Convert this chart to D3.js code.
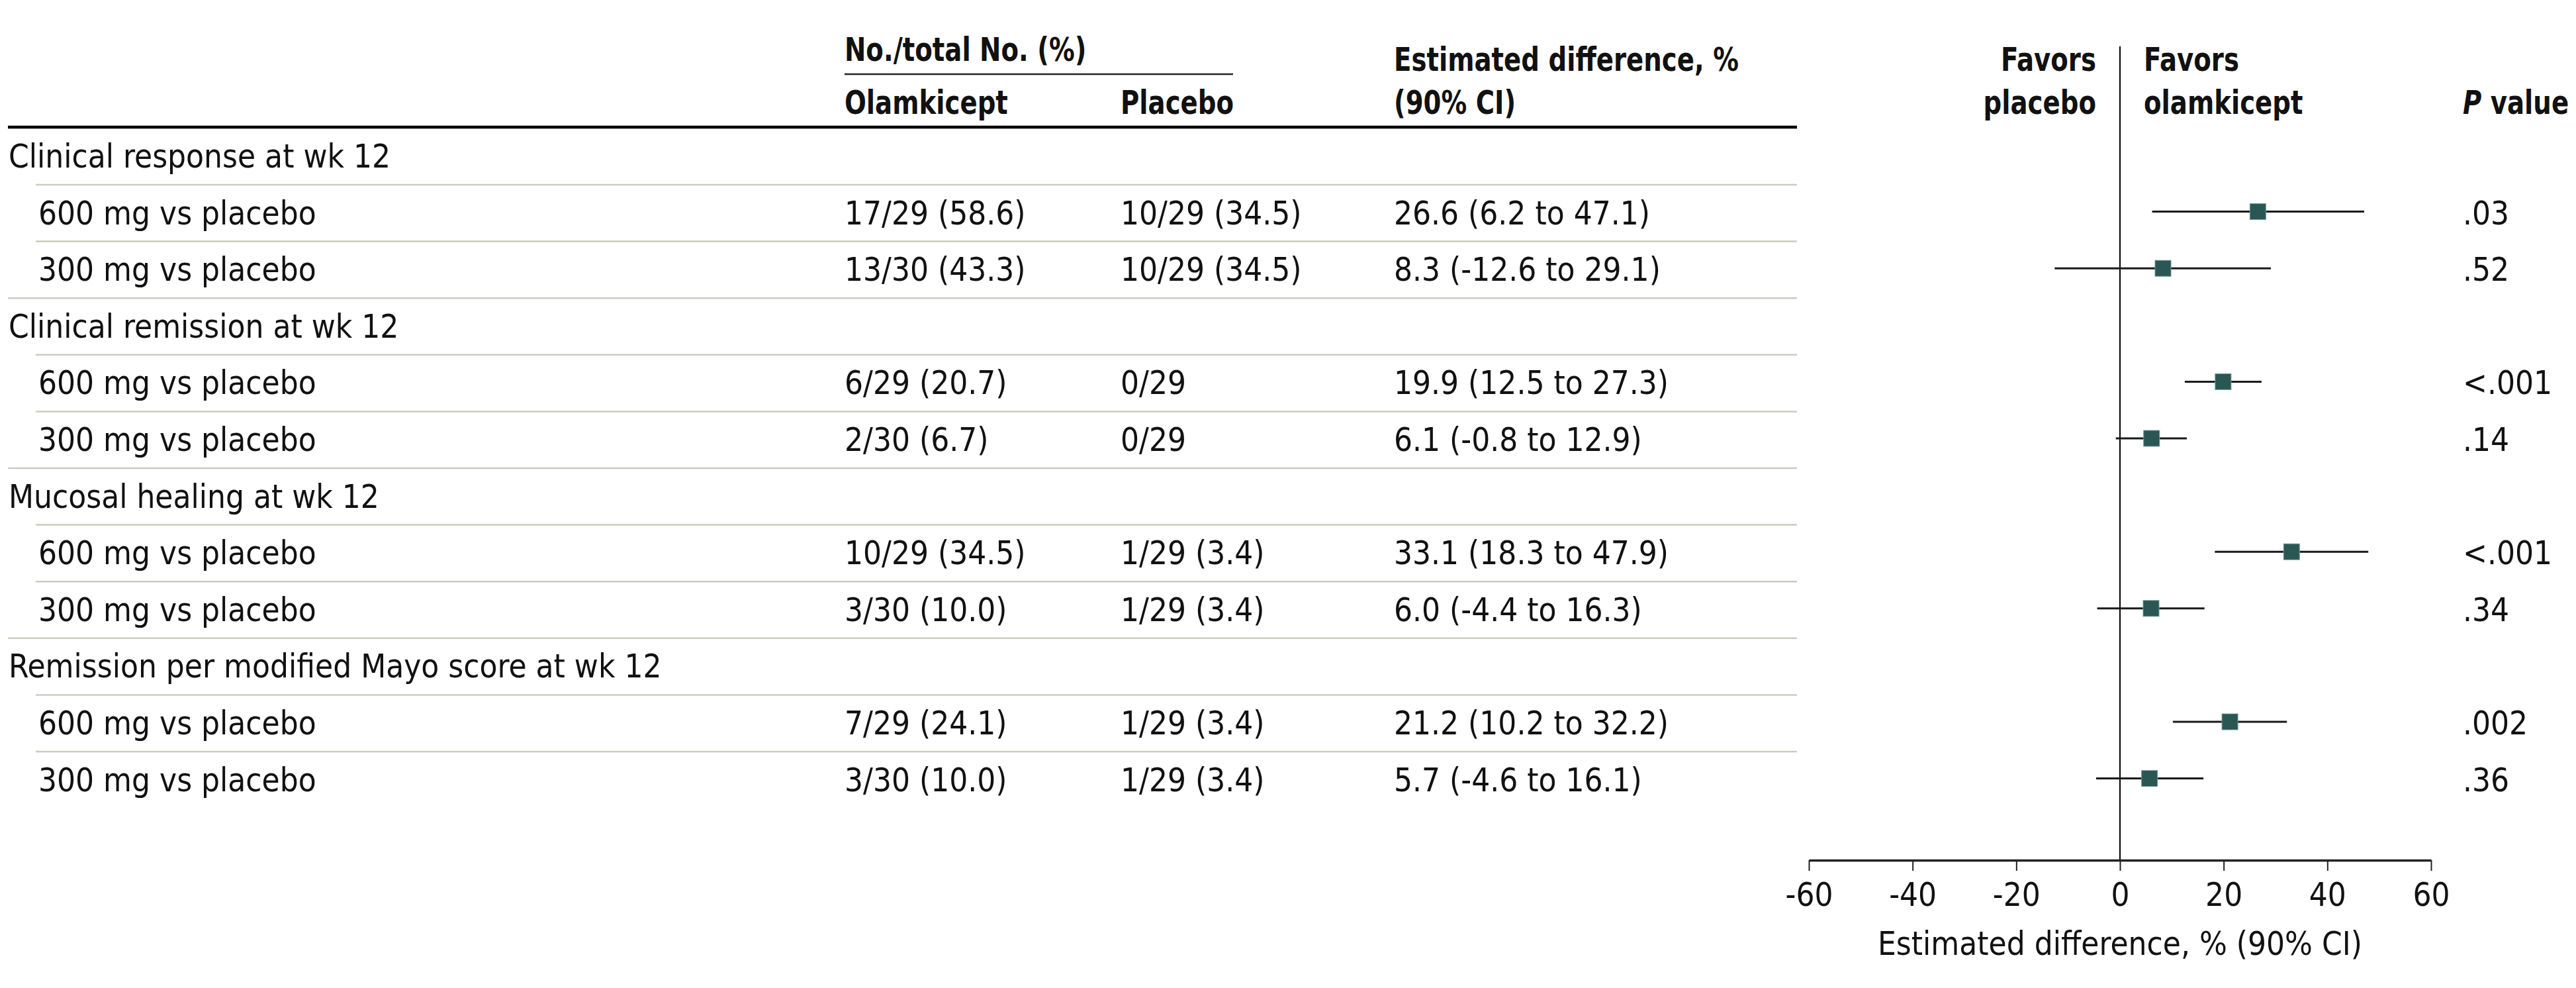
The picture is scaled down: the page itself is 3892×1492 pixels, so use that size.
<!DOCTYPE html>
<html>
<head>
<meta charset="utf-8">
<script src="https://cdn.jsdelivr.net/npm/d3@7"></script>
<style>
  body { margin: 0; background: #fff; }
  svg { display: block; }
  .body-text { font-family: "DejaVu Sans Condensed", "DejaVu Sans", sans-serif; font-size: 49px; fill: #111; }
  .head-text { font-family: "DejaVu Sans Condensed", "DejaVu Sans", sans-serif; font-size: 50px; font-weight: bold; fill: #111; }
</style>
</head>
<body>
<svg width="3892" height="1492"></svg>
<script>
// table data
var groups = ["Clinical response at wk 12", "Clinical remission at wk 12", "Mucosal healing at wk 12", "Remission per modified Mayo score at wk 12"];
var comparisons = ["600 mg vs placebo", "300 mg vs placebo"];
var olamkicept = ["17/29 (58.6)", "13/30 (43.3)", "6/29 (20.7)", "2/30 (6.7)", "10/29 (34.5)", "3/30 (10.0)", "7/29 (24.1)", "3/30 (10.0)"];
var placebo = ["10/29 (34.5)", "10/29 (34.5)", "0/29", "0/29", "1/29 (3.4)", "1/29 (3.4)", "1/29 (3.4)", "1/29 (3.4)"];
var estimate = [26.6, 8.3, 19.9, 6.1, 33.1, 6.0, 21.2, 5.7];
var lower = [6.2, -12.6, 12.5, -0.8, 18.3, -4.4, 10.2, -4.6];
var upper = [47.1, 29.1, 27.3, 12.9, 47.9, 16.3, 32.2, 16.1];
var pValues = [".03", ".52", "<.001", ".14", "<.001", ".34", ".002", ".36"];
var xTicks = [-60, -40, -20, 0, 20, 40, 60];

var svg = d3.select("svg");

// build row list: group header then its two comparisons
var rows = [];
var k = 0;
groups.forEach(function (g) {
    rows.push({type: "group", label: g});
    comparisons.forEach(function (c) {
        rows.push({type: "item", label: c, i: k});
        k++;
    });
});

var colOla = 1276, colPla = 1693, colEst = 2106, colP = 3721;
var tableRight = 2715;

var y = d3.scaleLinear().domain([0, rows.length - 1]).range([253, 253 + 85.6 * (rows.length - 1)]);
var x = d3.scaleLinear().domain([-60, 60]).range([2733, 3673]);
var axisY = 1299;

function fmt(v) { return v.toFixed(1); }

// header text is squeezed a bit to look like the narrow bold face of the original
var squeeze = 0.86;
var head = svg.append("g").attr("class", "head-text");
function headText(hx, hy, str, anchor) {
    return head.append("text")
        .attr("transform", "scale(" + squeeze + ",1)")
        .attr("x", hx / squeeze).attr("y", hy)
        .attr("text-anchor", anchor || "start")
        .text(str);
}

headText(colOla, 92, "No./total No. (%)");
svg.append("line").attr("x1", colOla).attr("x2", 1863).attr("y1", 112).attr("y2", 112)
    .attr("stroke", "#222").attr("stroke-width", 2.5);
headText(colOla, 172, "Olamkicept");
headText(colPla, 172, "Placebo");
headText(colEst, 107, "Estimated difference, %");
headText(colEst, 172, "(90% CI)");
headText(x(0) - 36, 107, "Favors", "end");
headText(x(0) - 36, 172, "placebo", "end");
headText(x(0) + 36, 107, "Favors");
headText(x(0) + 36, 172, "olamkicept");
var pv = headText(colP, 172, "");
pv.append("tspan").attr("font-style", "italic").text("P");
pv.append("tspan").text(" value");

svg.append("line").attr("x1", 12).attr("x2", tableRight).attr("y1", 192).attr("y2", 192)
    .attr("stroke", "#000").attr("stroke-width", 4.5);

// separator rules
rows.forEach(function (r, j) {
    if (j === rows.length - 1) return;
    var full = (r.type === "item" && r.i % 2 === 1);
    svg.append("line")
        .attr("x1", full ? 12 : 54).attr("x2", tableRight)
        .attr("y1", y(j) + 26).attr("y2", y(j) + 26)
        .attr("stroke", "#c9cdbf").attr("stroke-width", 2.5);
});

// row texts
var body = svg.append("g").attr("class", "body-text");
body.selectAll(".lab")
    .data(rows)
    .enter().append("text")
    .attr("x", function (d) { return d.type === "group" ? 13 : 58; })
    .attr("y", function (d, j) { return y(j); })
    .text(function (d) { return d.label; });

var items = rows.map(function (d, j) { return {d: d, j: j}; }).filter(function (o) { return o.d.type === "item"; });

body.selectAll(".ola").data(items).enter().append("text")
    .attr("x", colOla).attr("y", function (o) { return y(o.j); })
    .text(function (o) { return olamkicept[o.d.i]; });
body.selectAll(".pla").data(items).enter().append("text")
    .attr("x", colPla).attr("y", function (o) { return y(o.j); })
    .text(function (o) { return placebo[o.d.i]; });
body.selectAll(".est").data(items).enter().append("text")
    .attr("x", colEst).attr("y", function (o) { return y(o.j); })
    .text(function (o) {
        var i = o.d.i;
        return fmt(estimate[i]) + " (" + fmt(lower[i]) + " to " + fmt(upper[i]) + ")";
    });
body.selectAll(".pval").data(items).enter().append("text")
    .attr("x", colP).attr("y", function (o) { return y(o.j); })
    .text(function (o) { return pValues[o.d.i]; });

// zero line
svg.append("line").attr("x1", x(0)).attr("x2", x(0)).attr("y1", 70).attr("y2", axisY)
    .attr("stroke", "#000").attr("stroke-width", 2);

// forest marks
var plot = svg.append("g");
plot.selectAll(".ci").data(items).enter().append("line")
    .attr("x1", function (o) { return x(lower[o.d.i]); })
    .attr("x2", function (o) { return x(upper[o.d.i]); })
    .attr("y1", function (o) { return y(o.j) - 19; })
    .attr("y2", function (o) { return y(o.j) - 19; })
    .attr("stroke", "#1a1a1a").attr("stroke-width", 3);
plot.selectAll(".pt").data(items).enter().append("rect")
    .attr("x", function (o) { return x(estimate[o.d.i]) - 12; })
    .attr("y", function (o) { return y(o.j) - 31; })
    .attr("width", 24).attr("height", 24)
    .attr("fill", "#2a5654").attr("stroke", "#6f9896").attr("stroke-width", 1);

// axis
var ax = svg.append("g")
    .attr("transform", "translate(0," + axisY + ")")
    .call(d3.axisBottom(x).tickValues(xTicks).tickSize(16).tickSizeOuter(0).tickPadding(18)
        .tickFormat(function (d) { return String(d); }));
ax.select(".domain").attr("stroke", "#222").attr("stroke-width", 3.5);
ax.selectAll(".tick line").attr("stroke", "#222").attr("stroke-width", 2);
ax.selectAll(".tick text")
    .attr("font-family", "'DejaVu Sans Condensed', 'DejaVu Sans', sans-serif")
    .attr("font-size", 49).attr("fill", "#111");

svg.append("text").attr("class", "body-text")
    .attr("x", (x.range()[0] + x.range()[1]) / 2).attr("y", 1442)
    .attr("text-anchor", "middle")
    .text("Estimated difference, % (90% CI)");
</script>
</body>
</html>
